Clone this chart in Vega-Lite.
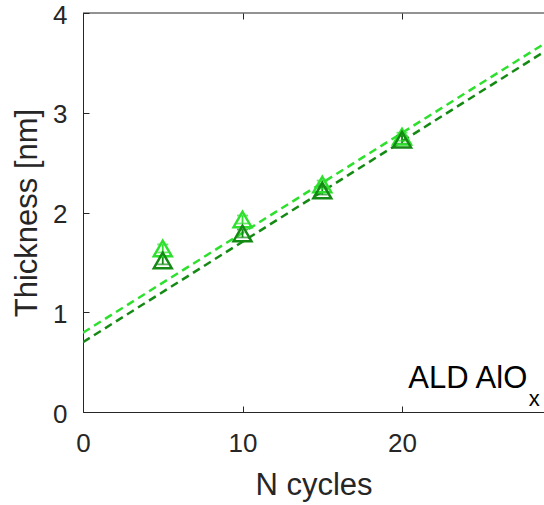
{
  "$schema": "https://vega.github.io/schema/vega-lite/v6.json",
  "autosize": "none",
  "width": 461,
  "height": 399,
  "padding": {"left": 83, "top": 13, "right": 0, "bottom": 93},
  "background": "white",
  "config": {
    "view": {"stroke": null},
    "font": "Liberation Sans",
    "axis": {
      "domainColor": "#262626",
      "domainWidth": 1,
      "tickColor": "#262626",
      "tickWidth": 1,
      "tickSize": -6,
      "grid": false,
      "labelFlush": false,
      "labelColor": "#262626",
      "labelFontSize": 26,
      "labelFont": "Liberation Sans",
      "titleColor": "#262626",
      "titleFontSize": 31,
      "titleFont": "Liberation Sans",
      "titleFontWeight": "normal"
    }
  },
  "datasets": {
    "points": [
      {"N": 5, "t": 1.64, "err": 0.04, "run": "fresh"},
      {"N": 10, "t": 1.93, "err": 0.04, "run": "fresh"},
      {"N": 15, "t": 2.28, "err": 0.04, "run": "fresh"},
      {"N": 20, "t": 2.76, "err": 0.04, "run": "fresh"},
      {"N": 5, "t": 1.52, "err": 0.04, "run": "annealed"},
      {"N": 10, "t": 1.79, "err": 0.04, "run": "annealed"},
      {"N": 15, "t": 2.22, "err": 0.04, "run": "annealed"},
      {"N": 20, "t": 2.73, "err": 0.04, "run": "annealed"}
    ],
    "fits": [
      {"N": 0, "t": 0.795, "run": "fresh"},
      {"N": 28.9, "t": 3.69, "run": "fresh"},
      {"N": 0, "t": 0.70, "run": "annealed"},
      {"N": 28.9, "t": 3.61, "run": "annealed"}
    ],
    "frame": [
      {"N": 0, "t": 4},
      {"N": 28.9, "t": 4}
    ],
    "notes": [
      {"N": 27.85, "t": 0.24, "txt": "ALD AlO", "part": "main"},
      {"N": 27.95, "t": 0.06, "txt": "x", "part": "sub"}
    ]
  },
  "layer": [
    {
      "data": {"name": "fits"},
      "mark": {"type": "line", "strokeDash": [8, 5], "strokeWidth": 2.5, "clip": true},
      "encoding": {
        "x": {
          "field": "N", "type": "quantitative",
          "scale": {"domain": [0, 28.9], "nice": false},
          "axis": {"values": [0, 10, 20], "title": "N cycles", "labelPadding": 24, "titlePadding": 14}
        },
        "y": {
          "field": "t", "type": "quantitative",
          "scale": {"domain": [0, 4], "nice": false},
          "axis": {"values": [0, 1, 2, 3, 4], "format": "d", "title": "Thickness [nm]", "labelPadding": 22, "labelOffset": 2, "titlePadding": 9}
        },
        "color": {
          "field": "run", "type": "nominal",
          "scale": {"domain": ["fresh", "annealed"], "range": ["#2ee02e", "#148a14"]},
          "legend": null
        },
        "detail": {"field": "run"}
      }
    },
    {
      "data": {"name": "frame"},
      "mark": {"type": "line", "color": "#262626", "strokeWidth": 1},
      "encoding": {
        "x": {
          "field": "N", "type": "quantitative",
          "axis": {"orient": "top", "values": [0, 10, 20], "labels": false, "title": null, "domain": false}
        },
        "y": {"field": "t", "type": "quantitative", "axis": null}
      }
    },
    {
      "data": {"name": "points"},
      "transform": [
        {"calculate": "datum.t - datum.err", "as": "lo"},
        {"calculate": "datum.t + datum.err", "as": "hi"}
      ],
      "mark": {"type": "rule", "strokeWidth": 1.8},
      "encoding": {
        "x": {"field": "N", "type": "quantitative", "axis": null},
        "y": {"field": "lo", "type": "quantitative", "axis": null},
        "y2": {"field": "hi"},
        "color": {"field": "run", "type": "nominal", "legend": null}
      }
    },
    {
      "data": {"name": "points"},
      "transform": [
        {"calculate": "datum.t - datum.err", "as": "lo"}
      ],
      "mark": {"type": "tick", "size": 11, "thickness": 1.8, "orient": "horizontal"},
      "encoding": {
        "x": {"field": "N", "type": "quantitative", "axis": null},
        "y": {"field": "lo", "type": "quantitative", "axis": null},
        "color": {"field": "run", "type": "nominal", "legend": null}
      }
    },
    {
      "data": {"name": "points"},
      "transform": [
        {"calculate": "datum.t + datum.err", "as": "hi"}
      ],
      "mark": {"type": "tick", "size": 11, "thickness": 1.8, "orient": "horizontal"},
      "encoding": {
        "x": {"field": "N", "type": "quantitative", "axis": null},
        "y": {"field": "hi", "type": "quantitative", "axis": null},
        "color": {"field": "run", "type": "nominal", "legend": null}
      }
    },
    {
      "data": {"name": "points"},
      "mark": {"type": "point", "shape": "triangle-up", "filled": false, "size": 320, "strokeWidth": 2.5, "opacity": 1},
      "encoding": {
        "x": {"field": "N", "type": "quantitative", "axis": null},
        "y": {"field": "t", "type": "quantitative", "axis": null},
        "color": {"field": "run", "type": "nominal", "legend": null}
      }
    },
    {
      "data": {"name": "notes"},
      "transform": [{"filter": "datum.part == 'main'"}],
      "mark": {"type": "text", "align": "right", "baseline": "alphabetic", "fontSize": 31, "font": "Liberation Sans", "color": "black"},
      "encoding": {
        "x": {"field": "N", "type": "quantitative", "axis": null},
        "y": {"field": "t", "type": "quantitative", "axis": null},
        "text": {"field": "txt"}
      }
    },
    {
      "data": {"name": "notes"},
      "transform": [{"filter": "datum.part == 'sub'"}],
      "mark": {"type": "text", "align": "left", "baseline": "alphabetic", "fontSize": 22, "font": "Liberation Sans", "color": "black"},
      "encoding": {
        "x": {"field": "N", "type": "quantitative", "axis": null},
        "y": {"field": "t", "type": "quantitative", "axis": null},
        "text": {"field": "txt"}
      }
    }
  ],
  "resolve": {"axis": {"x": "independent", "y": "independent"}}
}
